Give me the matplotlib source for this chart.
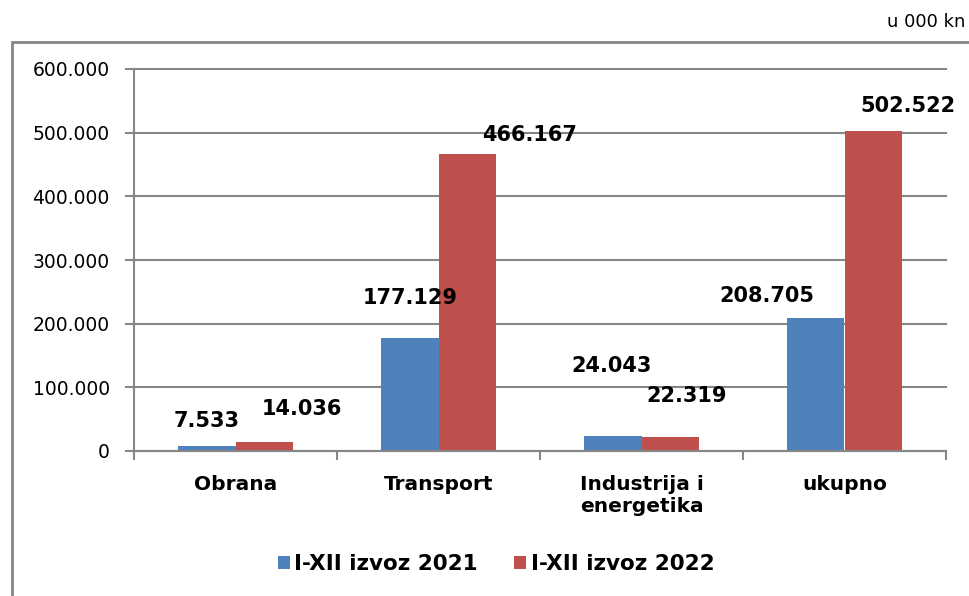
import matplotlib
matplotlib.use("Agg")
import matplotlib.pyplot as plt
from matplotlib.ticker import FuncFormatter, FixedLocator
from matplotlib.patches import Rectangle
import numpy as np

categories = ["Obrana", "Transport", "Industrija i\nenergetika", "ukupno"]
izvoz_2021 = [7533, 177129, 24043, 208705]
izvoz_2022 = [14036, 466167, 22319, 502522]
series_names = ["I-XII izvoz 2021", "I-XII izvoz 2022"]
unit_text = "u 000 kn"

# label offsets (points) from the top of each bar, as placed in the original
offs_2021 = [(0, 18), (0, 29), (-1, 50), (-35, 16)]
offs_2022 = [(27, 24), (45, 14), (12, 29.5), (25, 18)]

BLUE = "#4F81BD"
RED = "#C0504D"
GRAY = "#868686"

def fmt(v):
    return "{:,}".format(int(v)).replace(",", ".")

def main():
    plt.rcParams["font.family"] = "DejaVu Sans"
    fig = plt.figure(figsize=(9.69, 5.96), dpi=100)
    W, H = 969.0, 596.0

    # outer chart frame (runs off the right and bottom edges)
    fig.patches.append(Rectangle((11.5 / W, -0.1), 1.2, (596 - 41.5) / H + 0.1,
                                 transform=fig.transFigure, fill=False,
                                 edgecolor=GRAY, linewidth=2))
    fig.text(965 / W, (596 - 22) / H, unit_text, ha="right", va="center", fontsize=13)

    ax = fig.add_axes([134 / W, 145 / H, 812 / W, 382 / H])
    x = np.arange(len(categories))
    w = 0.283
    b1 = ax.bar(x - w / 2, izvoz_2021, w, color=BLUE, label=series_names[0],
                linewidth=0, zorder=2)
    b2 = ax.bar(x + w / 2, izvoz_2022, w, color=RED, label=series_names[1],
                linewidth=0, zorder=2)

    for bars, vals, offs in ((b1, izvoz_2021, offs_2021), (b2, izvoz_2022, offs_2022)):
        for bar, v, (dx, dy) in zip(bars, vals, offs):
            ax.annotate(fmt(v), (bar.get_x() + bar.get_width() / 2, v),
                        xytext=(dx, dy), textcoords="offset points",
                        ha="center", va="center", fontsize=15, fontweight="bold",
                        zorder=5)

    ax.set_xlim(-0.5, len(categories) - 0.5)
    ax.set_ylim(0, 600000)
    ax.set_yticks(np.arange(0, 600001, 100000))
    ax.yaxis.set_major_formatter(FuncFormatter(lambda v, p: fmt(v)))
    ax.yaxis.grid(True, color=GRAY, linewidth=1.5)
    for gl in ax.get_ygridlines():
        gl.set_clip_on(False)
    ax.set_axisbelow(True)

    ax.set_xticks(x)
    ax.set_xticklabels(categories, fontsize=14.5, fontweight="bold")
    ax.xaxis.set_minor_locator(FixedLocator(np.arange(-0.5, len(categories), 1.0)))
    ax.tick_params(axis="x", which="major", length=0, pad=17)
    ax.tick_params(axis="x", which="minor", length=6.5, width=1.5, color=GRAY, direction="out")
    ax.tick_params(axis="y", length=6.5, width=1.5, color=GRAY, pad=11, labelsize=13.5)

    for s in ("top", "right"):
        ax.spines[s].set_visible(False)
    for s in ("left", "bottom"):
        ax.spines[s].set_color(GRAY)
        ax.spines[s].set_linewidth(1.5)

    fig.legend(loc="center", bbox_to_anchor=(496 / W, (596 - 564) / H), ncol=2,
               frameon=False, prop={"size": 15.5, "weight": "bold"},
               handlelength=0.56, handleheight=0.56, handletextpad=0.2,
               columnspacing=1.7)

    fig.savefig("out.png", dpi=100)

if __name__ == "__main__":
    main()
